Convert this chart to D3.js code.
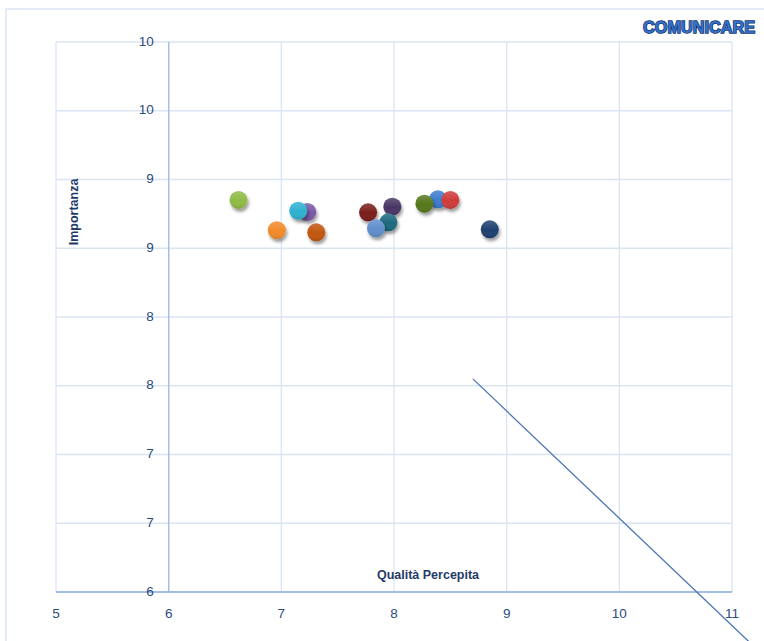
<!DOCTYPE html>
<html>
<head>
<meta charset="utf-8">
<script src="https://cdn.jsdelivr.net/npm/d3@7/dist/d3.min.js"></script>
<style>
  html, body { margin: 0; padding: 0; background: #fff; }
  svg { display: block; }
</style>
</head>
<body>
<svg id="chart" width="764" height="641"></svg>
<script>
// Perceived quality (x) vs importance (y), one dot per item
const qualita    = [6.62, 6.96, 7.23, 7.15, 7.31, 7.77, 7.985, 7.95, 7.84, 8.39, 8.27, 8.50, 8.85];
const importanza = [8.851, 8.631, 8.764, 8.773, 8.616, 8.761, 8.802, 8.689, 8.645, 8.856, 8.824, 8.851, 8.638];
const colori     = ["#8fba44", "#f28a2c", "#7b58a8", "#2fb0d0", "#c1540b", "#7a1d1b",
                    "#4a3466", "#1a6b7e", "#5e8ecb", "#3c7bcf", "#57761f", "#cf3a3a", "#1d416f"];

const xTicks = [5, 6, 7, 8, 9, 10, 11];
const yTicks = [6, 6.5, 7, 7.5, 8, 8.5, 9, 9.5, 10];

// reference line drawn across the lower right
const rettaX = [8.70, 11.20];
const rettaY = [7.55, 5.60];

const svg = d3.select("#chart");
const x = d3.scaleLinear().domain([5, 11]).range([56, 732]);
const y = d3.scaleLinear().domain([6, 10]).range([592, 42]);

const tickFont = "'Liberation Sans', Arial, sans-serif";
const textCol = "#2b4a7e";

// outer frame
svg.append("rect")
  .attr("x", 6).attr("y", 9).attr("width", 820).attr("height", 700)
  .attr("fill", "none").attr("stroke", "#dbe6f4").attr("stroke-width", 1.6);

// shadow for the dots
const defs = svg.append("defs");
const f = defs.append("filter").attr("id", "ombra")
  .attr("x", "-50%").attr("y", "-50%").attr("width", "200%").attr("height", "200%");
f.append("feDropShadow").attr("dx", 1.5).attr("dy", 3).attr("stdDeviation", 1.8)
  .attr("flood-color", "#000").attr("flood-opacity", 0.38);
const g = defs.append("linearGradient").attr("id", "luce")
  .attr("x1", 0).attr("y1", 0).attr("x2", 0).attr("y2", 1);
g.append("stop").attr("offset", "0%").attr("stop-color", "#fff").attr("stop-opacity", 0.18);
g.append("stop").attr("offset", "55%").attr("stop-color", "#fff").attr("stop-opacity", 0);
g.append("stop").attr("offset", "100%").attr("stop-color", "#000").attr("stop-opacity", 0.12);

// grid
const grid = svg.append("g");
grid.selectAll("line.v").data(xTicks).join("line")
  .attr("x1", d => x(d)).attr("x2", d => x(d))
  .attr("y1", y(10)).attr("y2", y(6))
  .attr("stroke", "#dae5f4").attr("stroke-width", 1.3);
grid.selectAll("line.h").data(yTicks).join("line")
  .attr("x1", x(5)).attr("x2", x(11))
  .attr("y1", d => y(d)).attr("y2", d => y(d))
  .attr("stroke", "#dae5f4").attr("stroke-width", 1.3);

// axes lines: vertical axis crosses at x = 6, horizontal at y = 6
svg.append("line")
  .attr("x1", x(6)).attr("x2", x(6)).attr("y1", y(10)).attr("y2", y(6))
  .attr("stroke", "#a5bee3").attr("stroke-width", 1.4);
svg.append("line")
  .attr("x1", x(5)).attr("x2", x(11)).attr("y1", y(6)).attr("y2", y(6))
  .attr("stroke", "#8faedc").attr("stroke-width", 1.4);

// y tick labels (rounded to integers)
svg.append("g").selectAll("text").data(yTicks).join("text")
  .attr("x", x(6) - 15).attr("y", d => y(d) - 1)
  .attr("text-anchor", "end").attr("dominant-baseline", "central")
  .attr("font-family", tickFont).attr("font-size", 13.5).attr("fill", textCol)
  .text(d => d3.format(".0f")(Math.floor(d + 0.5)));

// x tick labels
svg.append("g").selectAll("text").data(xTicks).join("text")
  .attr("x", d => x(d)).attr("y", 613)
  .attr("text-anchor", "middle").attr("dominant-baseline", "central")
  .attr("font-family", tickFont).attr("font-size", 13.5).attr("fill", textCol)
  .text(d => d);

// axis titles
svg.append("text")
  .attr("x", 428).attr("y", 575)
  .attr("text-anchor", "middle").attr("dominant-baseline", "central")
  .attr("font-family", tickFont).attr("font-size", 12.5).attr("font-weight", "bold")
  .attr("fill", "#1f3a68").text("Qualità Percepita");
svg.append("text")
  .attr("transform", "translate(74,212) rotate(-90)")
  .attr("text-anchor", "middle").attr("dominant-baseline", "central")
  .attr("font-family", tickFont).attr("font-size", 12.5).attr("font-weight", "bold")
  .attr("fill", "#1f3a68").text("Importanza");

// brand label
svg.append("text")
  .attr("x", 643).attr("y", 27)
  .attr("text-anchor", "start").attr("dominant-baseline", "central")
  .attr("font-family", "'Liberation Sans Narrow', 'Arial Narrow', 'Liberation Sans', sans-serif")
  .attr("font-size", 17).attr("font-weight", "bold")
  .attr("textLength", 112).attr("lengthAdjust", "spacingAndGlyphs")
  .attr("fill", "#3470c8").attr("stroke", "#12336c").attr("stroke-width", 1.5)
  .attr("paint-order", "stroke")
  .text("COMUNICARE");

// reference line
const linea = d3.line().x(d => x(d[0])).y(d => y(d[1]));
svg.append("path")
  .datum(rettaX.map((v, i) => [v, rettaY[i]]))
  .attr("d", linea)
  .attr("fill", "none").attr("stroke", "#4a75b3").attr("stroke-width", 1.3);

// dots
const punti = qualita.map((v, i) => ({ q: v, imp: importanza[i], c: colori[i] }));
const dots = svg.append("g").selectAll("g").data(punti).join("g")
  .attr("transform", d => `translate(${x(d.q)},${y(d.imp)})`);
dots.append("circle").attr("r", 9).attr("fill", d => d.c).attr("filter", "url(#ombra)");
dots.append("circle").attr("r", 9).attr("fill", "url(#luce)");
</script>
</body>
</html>
